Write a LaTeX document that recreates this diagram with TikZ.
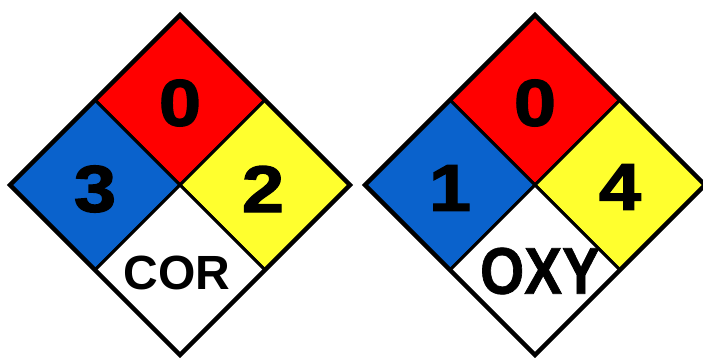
\documentclass[tikz,border=0pt]{standalone}
\usepackage{fontspec}
\setmainfont{Liberation Sans}
\newfontfamily\digitfont[FakeStretch=1.15,FakeBold=2]{Liberation Sans Bold}
\newfontfamily\narrowfont[FakeStretch=0.86,FakeBold=1]{Liberation Sans Bold}
\usetikzlibrary{positioning}
\definecolor{hblue}{HTML}{0A62CC}
\definecolor{fred}{HTML}{FF0000}
\definecolor{ryellow}{HTML}{FFFF2E}
\tikzset{quad/.style={draw=black,line width=3pt,line join=miter}, rim/.style={draw=black,line width=4.5pt,line join=miter}, rating/.style={font=\digitfont\fontsize{66}{66}\selectfont,inner sep=0pt}, corlabel/.style={font=\bfseries\fontsize{48}{48}\selectfont,inner sep=0pt}, oxylabel/.style={font=\narrowfont\fontsize{66}{66}\selectfont,inner sep=0pt}}

\begin{document}
\begin{tikzpicture}[x=1pt,y=-1pt]
\useasboundingbox (0,0) rectangle (703,358);
% left placard
\begin{scope}[shift={(180,185)}]
\filldraw[quad,fill=fred] (0,-170) -- (85,-85) -- (0,0) -- (-85,-85) -- cycle;
\filldraw[quad,fill=hblue] (-85,-85) -- (0,0) -- (-85,85) -- (-170,0) -- cycle;
\filldraw[quad,fill=ryellow] (85,-85) -- (170,0) -- (85,85) -- (0,0) -- cycle;
\filldraw[quad,fill=white] (0,0) -- (85,85) -- (0,170) -- (-85,85) -- cycle;
\draw[rim] (0,-170) -- (170,0) -- (0,170) -- (-170,0) -- cycle;
\node[rating] (fireA) at (0,-82) {0};
\node[rating] (healthA) at (-85,4) {3};
\node[rating] (reactA) at (83,4) {2};
\node[corlabel] (specA) at (-3,88) {COR};
\end{scope}
% right placard
\begin{scope}[shift={(535,185)}]
\filldraw[quad,fill=fred] (0,-170) -- (85,-85) -- (0,0) -- (-85,-85) -- cycle;
\filldraw[quad,fill=hblue] (-85,-85) -- (0,0) -- (-85,85) -- (-170,0) -- cycle;
\filldraw[quad,fill=ryellow] (85,-85) -- (170,0) -- (85,85) -- (0,0) -- cycle;
\filldraw[quad,fill=white] (0,0) -- (85,85) -- (0,170) -- (-85,85) -- cycle;
\draw[rim] (0,-170) -- (170,0) -- (0,170) -- (-170,0) -- cycle;
\node[rating] (fireB) at (0,-82) {0};
\node[rating] (healthB) at (-85,3) {1};
\node[rating] (reactB) at (85,2) {4};
\node[oxylabel] (specB) at (5,86) {OXY};
\end{scope}
\end{tikzpicture}
\end{document}
